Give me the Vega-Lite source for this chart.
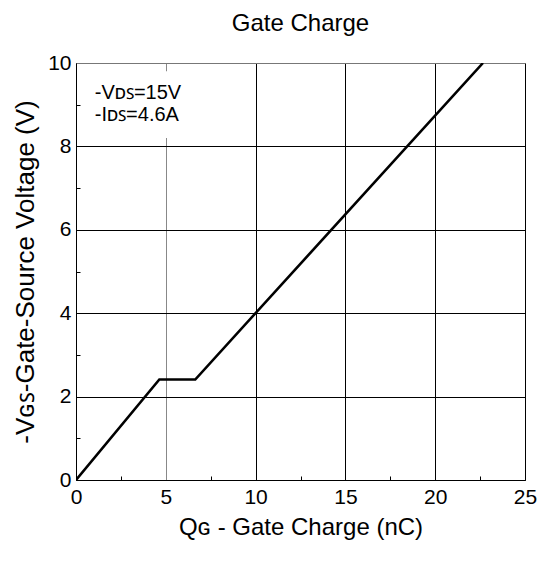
{
  "$schema": "https://vega.github.io/schema/vega-lite/v6.json",
  "width": 449,
  "height": 417,
  "autosize": "none",
  "padding": {"left": 76, "top": 63, "right": 14, "bottom": 85},
  "background": "white",
  "title": {
    "text": "Gate Charge",
    "font": "Liberation Sans, Arial, sans-serif",
    "fontSize": 24,
    "fontWeight": "normal",
    "color": "#000",
    "anchor": "middle",
    "offset": 16
  },
  "config": {
    "view": {"stroke": "#777", "strokeWidth": 1},
    "axis": {
      "labelFont": "Liberation Sans, Arial, sans-serif",
      "titleFont": "Liberation Sans, Arial, sans-serif",
      "labelColor": "#000",
      "titleColor": "#000",
      "labelFontSize": 21,
      "titleFontSize": 24,
      "titleFontWeight": "normal",
      "domainColor": "#000",
      "domainWidth": 1,
      "tickColor": "#000",
      "tickWidth": 1,
      "gridWidth": 1
    }
  },
  "data": {
    "values": [
      {"qg": 0, "vgs": 0},
      {"qg": 4.64, "vgs": 2.41},
      {"qg": 6.64, "vgs": 2.41},
      {"qg": 22.66, "vgs": 10}
    ]
  },
  "layer": [
    {
      "mark": {"type": "line", "color": "#000", "strokeWidth": 2.6, "clip": true},
      "encoding": {
        "x": {
          "field": "qg",
          "type": "quantitative",
          "scale": {"domain": [0, 25], "nice": false},
          "axis": {
            "title": "Qɢ - Gate Charge (nC)",
            "values": [0, 2.5, 5, 7.5, 10, 12.5, 15, 17.5, 20, 22.5, 25],
            "labelExpr": "datum.value % 5 === 0 ? datum.label : ''",
            "labelPadding": 6,
            "labelFlush": false,
            "titlePadding": 8,
            "tickSize": {"condition": {"test": "datum.value % 5 === 0", "value": 0}, "value": -4},
            "grid": true,
            "gridColor": {"condition": {"test": "datum.value === 5", "value": "#888"}, "value": "#000"},
            "gridOpacity": {"condition": {"test": "datum.value % 5 === 0", "value": 1}, "value": 0}
          }
        },
        "y": {
          "field": "vgs",
          "type": "quantitative",
          "scale": {"domain": [0, 10], "nice": false},
          "axis": {
            "title": "-Vɢꜱ-Gate-Source Voltage (V)",
            "titleFontSize": 26,
            "values": [0, 1, 2, 3, 4, 5, 6, 7, 8, 9, 10],
            "labelExpr": "datum.value % 2 === 0 ? datum.label : ''",
            "labelPadding": 5,
            "labelFlush": false,
            "titlePadding": 9,
            "tickSize": {"condition": {"test": "datum.value % 2 === 0", "value": 0}, "value": -4},
            "grid": true,
            "gridColor": {"condition": {"test": "datum.value === 10", "value": "#777"}, "value": "#000"},
            "gridOpacity": {"condition": {"test": "datum.value % 2 === 0", "value": 1}, "value": 0}
          }
        }
      }
    },
    {
      "data": {"values": [{"note": "-Vᴅꜱ=15V\n-Iᴅꜱ=4.6A"}]},
      "layer": [
        {
          "mark": {"type": "rect", "fill": "white"},
          "encoding": {
            "x": {"datum": 0.3},
            "x2": {"datum": 6.5},
            "y": {"datum": 8.2},
            "y2": {"datum": 9.8}
          }
        },
        {
          "mark": {
            "type": "text",
            "font": "Liberation Sans, Arial, sans-serif",
            "fontSize": 20,
            "fontWeight": "normal",
            "fill": "#000",
            "align": "left",
            "baseline": "top",
            "lineBreak": "\n",
            "lineHeight": 22
          },
          "encoding": {
            "x": {"datum": 1.05},
            "y": {"datum": 9.53},
            "text": {"field": "note"}
          }
        }
      ]
    }
  ]
}
